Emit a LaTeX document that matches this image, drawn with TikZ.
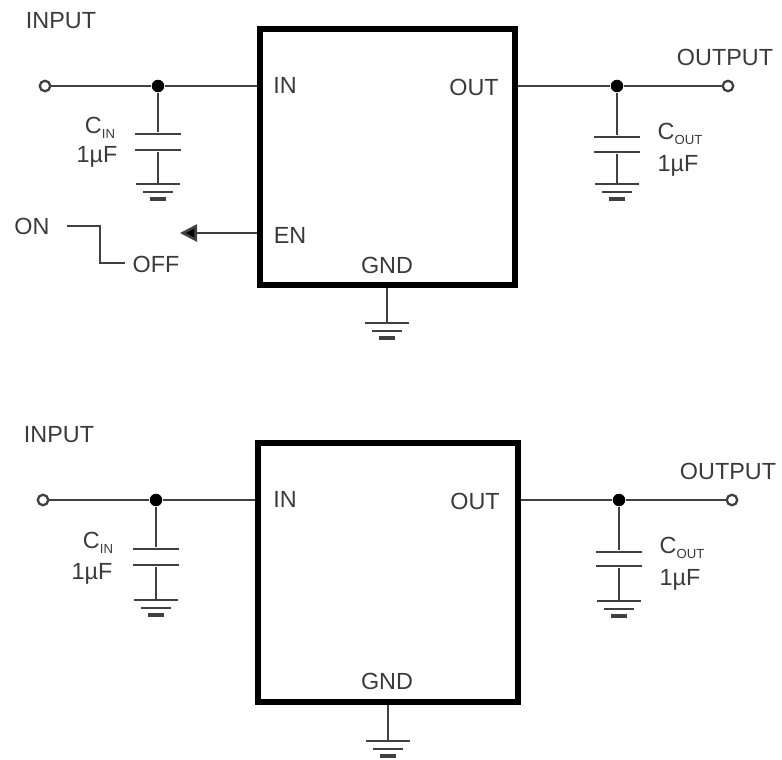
\documentclass[tikz,border=0pt]{standalone}
\usepackage{fontspec}
\setmainfont{Liberation Sans}
\usetikzlibrary{arrows.meta}
\definecolor{wire}{HTML}{404040}
\definecolor{ink}{HTML}{3A3A3A}
\newcommand{\subs}[1]{\raisebox{-2.5pt}{\fontsize{7.5}{8}\selectfont #1}}
\tikzset{
	wirestyle/.style={draw=wire,line width=1.5pt},
	chip/.style={draw=black,line width=3.4pt,minimum width=5.12cm,minimum height=5.12cm,inner sep=0pt},
	chiplarge/.style={chip,minimum width=5.2cm,minimum height=5.2cm},
	txt/.style={text=ink,inner sep=0pt,font=\fontsize{13.3}{15}\selectfont},
	dot/.style={circle,fill=black,inner sep=0pt,minimum size=0.25cm},
	term/.style={circle,draw=wire,line width=1.3pt,fill=white,inner sep=0pt,minimum size=0.21cm},
	plate/.style={fill=wire,inner sep=0pt,minimum width=0.94cm,minimum height=1.5pt},
	earth/.pic={
		\draw[wirestyle] (-22,0) -- (22,0);
		\draw[wirestyle] (-15,8) -- (15,8);
		\draw[wirestyle,line width=2pt] (-8,15) -- (8,15);
	}
}
\begin{document}
\begin{tikzpicture}[x=0.02cm,y=-0.02cm]
	\useasboundingbox (0,0) rectangle (782,760);

	% upper circuit
	\node[chip] (chipA) at (387.5,157) {};
	\node[term] (inA) at (45,86) {};
	\node[dot] (dotinA) at (158,86) {};
	\node[dot] (dotoutA) at (617,86) {};
	\node[term] (outA) at (728,86) {};
	\draw[wirestyle] (inA) -- (dotinA);
	\draw[wirestyle] (dotinA) -- (dotinA -| chipA.west);
	\draw[wirestyle] (dotoutA -| chipA.east) -- (dotoutA);
	\draw[wirestyle] (dotoutA) -- (outA);

	\node[plate] (capinAtop) at (158,134) {};
	\node[plate] (capinAbot) at (158,150) {};
	\coordinate (gndinA) at (158,184);
	\draw[wirestyle] (dotinA) -- (capinAtop);
	\draw[wirestyle] (capinAbot) -- (gndinA);
	\pic at (gndinA) {earth};

	\node[plate] (capoutAtop) at (617,137) {};
	\node[plate] (capoutAbot) at (617,152) {};
	\coordinate (gndoutA) at (617,184);
	\draw[wirestyle] (dotoutA) -- (capoutAtop);
	\draw[wirestyle] (capoutAbot) -- (gndoutA);
	\pic at (gndoutA) {earth};

	\coordinate (gndchipA) at (387,323);
	\draw[wirestyle] (chipA.south -| gndchipA) -- (gndchipA);
	\pic at (gndchipA) {earth};

	% enable switch
	\coordinate (entip) at (180,233);
	\draw[wirestyle,{Triangle[length=17*0.02cm,width=17*0.02cm,fill=black]}-] (entip) -- (entip -| chipA.west);
	\node[txt] (on) at (32,226) {ON};
	\node[txt] (off) at (156,264) {OFF};
	\coordinate (swa) at (67,226);
	\coordinate (swb) at (125,263);
	\draw[wirestyle] (swa) -- (100,226) -- (100,263) -- (swb);

	\node[txt] (inputA) at (61,21) {INPUT};
	\node[txt] (outputA) at (725,57) {OUTPUT};
	\node[txt] (pininA) at (285,85) {IN};
	\node[txt] (pinoutA) at (474,87) {OUT};
	\node[txt] (pinenA) at (290,235) {EN};
	\node[txt] (pingndA) at (387,265) {GND};
	\node[txt] (cinA) at (100,128) {C\subs{IN}};
	\node[txt] (cinvalA) at (97,157) {1µF};
	\node[txt] (coutA) at (680,134) {C\subs{OUT}};
	\node[txt] (coutvalA) at (678,166) {1µF};

	% lower circuit
	\node[chiplarge] (chipB) at (388,572.5) {};
	\node[term] (inB) at (43,500) {};
	\node[dot] (dotinB) at (156,500) {};
	\node[dot] (dotoutB) at (619,500) {};
	\node[term] (outB) at (732,500) {};
	\draw[wirestyle] (inB) -- (dotinB);
	\draw[wirestyle] (dotinB) -- (dotinB -| chipB.west);
	\draw[wirestyle] (dotoutB -| chipB.east) -- (dotoutB);
	\draw[wirestyle] (dotoutB) -- (outB);

	\node[plate] (capinBtop) at (156,549) {};
	\node[plate] (capinBbot) at (156,565) {};
	\coordinate (gndinB) at (156,600);
	\draw[wirestyle] (dotinB) -- (capinBtop);
	\draw[wirestyle] (capinBbot) -- (gndinB);
	\pic at (gndinB) {earth};

	\node[plate] (capoutBtop) at (619,552) {};
	\node[plate] (capoutBbot) at (619,566) {};
	\coordinate (gndoutB) at (619,601);
	\draw[wirestyle] (dotoutB) -- (capoutBtop);
	\draw[wirestyle] (capoutBbot) -- (gndoutB);
	\pic at (gndoutB) {earth};

	\coordinate (gndchipB) at (388,741);
	\draw[wirestyle] (chipB.south -| gndchipB) -- (gndchipB);
	\pic at (gndchipB) {earth};

	\node[txt] (inputB) at (59,435) {INPUT};
	\node[txt] (outputB) at (728,471) {OUTPUT};
	\node[txt] (pininB) at (285,499) {IN};
	\node[txt] (pinoutB) at (475,501) {OUT};
	\node[txt] (pingndB) at (387,681) {GND};
	\node[txt] (cinB) at (98,543) {C\subs{IN}};
	\node[txt] (cinvalB) at (92,574) {1µF};
	\node[txt] (coutB) at (682,548) {C\subs{OUT}};
	\node[txt] (coutvalB) at (680,580) {1µF};
\end{tikzpicture}
\end{document}
